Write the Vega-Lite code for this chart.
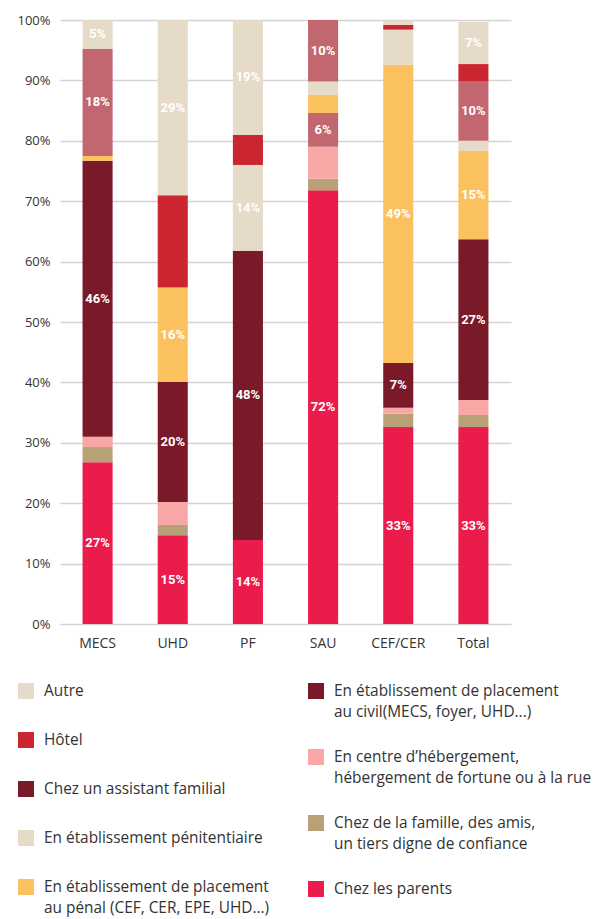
{
  "$schema": "https://vega.github.io/schema/vega-lite/v6.json",
  "width": 451,
  "height": 604,
  "autosize": {"type": "none"},
  "padding": {"left": 60, "top": 20, "right": 87, "bottom": 295},
  "background": "#ffffff",
  "config": {
    "view": {"stroke": null},
    "font": "Open Sans",
    "axis": {"labelFont": "Open Sans", "labelColor": "#333333", "title": null}
  },
  "datasets": {
    "valeurs": [
      {"structure": "MECS", "categorie": "Chez les parents", "ordre": 1, "valeur": 0.268, "etiquette": true},
      {"structure": "MECS", "categorie": "Chez de la famille, des amis, un tiers digne de confiance", "ordre": 2, "valeur": 0.025, "etiquette": false},
      {"structure": "MECS", "categorie": "En centre d’hébergement, hébergement de fortune ou à la rue", "ordre": 3, "valeur": 0.017, "etiquette": false},
      {"structure": "MECS", "categorie": "En établissement de placement au civil(MECS, foyer, UHD...)", "ordre": 4, "valeur": 0.457, "etiquette": true},
      {"structure": "MECS", "categorie": "En établissement de placement au pénal (CEF, CER, EPE, UHD...)", "ordre": 5, "valeur": 0.008, "etiquette": false},
      {"structure": "MECS", "categorie": "Chez un assistant familial", "ordre": 7, "valeur": 0.177, "etiquette": true},
      {"structure": "MECS", "categorie": "Autre", "ordre": 9, "valeur": 0.048, "etiquette": true},

      {"structure": "UHD", "categorie": "Chez les parents", "ordre": 1, "valeur": 0.147, "etiquette": true},
      {"structure": "UHD", "categorie": "Chez de la famille, des amis, un tiers digne de confiance", "ordre": 2, "valeur": 0.017, "etiquette": false},
      {"structure": "UHD", "categorie": "En centre d’hébergement, hébergement de fortune ou à la rue", "ordre": 3, "valeur": 0.038, "etiquette": false},
      {"structure": "UHD", "categorie": "En établissement de placement au civil(MECS, foyer, UHD...)", "ordre": 4, "valeur": 0.199, "etiquette": true},
      {"structure": "UHD", "categorie": "En établissement de placement au pénal (CEF, CER, EPE, UHD...)", "ordre": 5, "valeur": 0.156, "etiquette": true},
      {"structure": "UHD", "categorie": "Hôtel", "ordre": 8, "valeur": 0.153, "etiquette": false},
      {"structure": "UHD", "categorie": "Autre", "ordre": 9, "valeur": 0.29, "etiquette": true},

      {"structure": "PF", "categorie": "Chez les parents", "ordre": 1, "valeur": 0.139, "etiquette": true},
      {"structure": "PF", "categorie": "En établissement de placement au civil(MECS, foyer, UHD...)", "ordre": 4, "valeur": 0.479, "etiquette": true},
      {"structure": "PF", "categorie": "En établissement pénitentiaire", "ordre": 6, "valeur": 0.142, "etiquette": true},
      {"structure": "PF", "categorie": "Hôtel", "ordre": 8, "valeur": 0.05, "etiquette": false},
      {"structure": "PF", "categorie": "Autre", "ordre": 9, "valeur": 0.19, "etiquette": true},

      {"structure": "SAU", "categorie": "Chez les parents", "ordre": 1, "valeur": 0.718, "etiquette": true},
      {"structure": "SAU", "categorie": "Chez de la famille, des amis, un tiers digne de confiance", "ordre": 2, "valeur": 0.019, "etiquette": false},
      {"structure": "SAU", "categorie": "En centre d’hébergement, hébergement de fortune ou à la rue", "ordre": 3, "valeur": 0.053, "etiquette": false},
      {"structure": "SAU", "categorie": "Chez un assistant familial", "ordre": 4, "valeur": 0.056, "etiquette": true},
      {"structure": "SAU", "categorie": "En établissement de placement au pénal (CEF, CER, EPE, UHD...)", "ordre": 5, "valeur": 0.03, "etiquette": false},
      {"structure": "SAU", "categorie": "En établissement pénitentiaire", "ordre": 6, "valeur": 0.022, "etiquette": false},
      {"structure": "SAU", "categorie": "Chez un assistant familial", "ordre": 7, "valeur": 0.102, "etiquette": true},

      {"structure": "CEF/CER", "categorie": "Chez les parents", "ordre": 1, "valeur": 0.326, "etiquette": true},
      {"structure": "CEF/CER", "categorie": "Chez de la famille, des amis, un tiers digne de confiance", "ordre": 2, "valeur": 0.022, "etiquette": false},
      {"structure": "CEF/CER", "categorie": "En centre d’hébergement, hébergement de fortune ou à la rue", "ordre": 3, "valeur": 0.01, "etiquette": false},
      {"structure": "CEF/CER", "categorie": "En établissement de placement au civil(MECS, foyer, UHD...)", "ordre": 4, "valeur": 0.074, "etiquette": true},
      {"structure": "CEF/CER", "categorie": "En établissement de placement au pénal (CEF, CER, EPE, UHD...)", "ordre": 5, "valeur": 0.494, "etiquette": true},
      {"structure": "CEF/CER", "categorie": "En établissement pénitentiaire", "ordre": 6, "valeur": 0.058, "etiquette": false},
      {"structure": "CEF/CER", "categorie": "Hôtel", "ordre": 8, "valeur": 0.008, "etiquette": false},
      {"structure": "CEF/CER", "categorie": "Autre", "ordre": 9, "valeur": 0.007, "etiquette": false},

      {"structure": "Total", "categorie": "Chez les parents", "ordre": 1, "valeur": 0.326, "etiquette": true},
      {"structure": "Total", "categorie": "Chez de la famille, des amis, un tiers digne de confiance", "ordre": 2, "valeur": 0.02, "etiquette": false},
      {"structure": "Total", "categorie": "En centre d’hébergement, hébergement de fortune ou à la rue", "ordre": 3, "valeur": 0.025, "etiquette": false},
      {"structure": "Total", "categorie": "En établissement de placement au civil(MECS, foyer, UHD...)", "ordre": 4, "valeur": 0.266, "etiquette": true},
      {"structure": "Total", "categorie": "En établissement de placement au pénal (CEF, CER, EPE, UHD...)", "ordre": 5, "valeur": 0.146, "etiquette": true},
      {"structure": "Total", "categorie": "En établissement pénitentiaire", "ordre": 6, "valeur": 0.017, "etiquette": false},
      {"structure": "Total", "categorie": "Chez un assistant familial", "ordre": 7, "valeur": 0.099, "etiquette": true},
      {"structure": "Total", "categorie": "Hôtel", "ordre": 8, "valeur": 0.028, "etiquette": false},
      {"structure": "Total", "categorie": "Autre", "ordre": 9, "valeur": 0.07, "etiquette": true}
    ]
  },
  "resolve": {"scale": {"color": "independent"}, "legend": {"color": "independent"}},
  "layer": [
    {
      "data": {"name": "valeurs"},
      "transform": [
        {"stack": "valeur", "groupby": ["structure"], "sort": [{"field": "ordre", "order": "ascending"}], "as": ["y0", "y1"]}
      ],
      "mark": {"type": "bar"},
      "encoding": {
        "x": {
          "field": "structure", "type": "nominal",
          "sort": ["MECS", "UHD", "PF", "SAU", "CEF/CER", "Total"],
          "scale": {"paddingInner": 0.6, "paddingOuter": 0.3},
          "axis": {"labelAngle": 0, "domain": false, "ticks": false, "labelFontSize": 14, "labelPadding": 12, "title": null}
        },
        "y": {
          "field": "y0", "type": "quantitative",
          "scale": {"domain": [0, 1], "nice": false},
          "axis": {"values": [0, 0.1, 0.2, 0.3, 0.4, 0.5, 0.6, 0.7, 0.8, 0.9, 1], "format": ".0%", "grid": true, "gridColor": "#d3d3d3", "gridWidth": 1.5, "domain": false, "ticks": false, "labelFontSize": 13, "labelPadding": 10, "title": null}
        },
        "y2": {"field": "y1"},
        "color": {
          "field": "categorie", "type": "nominal", "legend": null,
          "scale": {
            "domain": ["Autre", "Hôtel", "Chez un assistant familial", "En établissement pénitentiaire", "En établissement de placement au pénal (CEF, CER, EPE, UHD...)", "En établissement de placement au civil(MECS, foyer, UHD...)", "En centre d’hébergement, hébergement de fortune ou à la rue", "Chez de la famille, des amis, un tiers digne de confiance", "Chez les parents"],
            "range": ["#e6dac8", "#cb2630", "#c2666f", "#e6dac8", "#fcc15f", "#7a1a28", "#f9a6a6", "#b9a076", "#e91c4c"]
          }
        }
      }
    },
    {
      "data": {"name": "valeurs"},
      "transform": [
        {"stack": "valeur", "groupby": ["structure"], "sort": [{"field": "ordre", "order": "ascending"}], "as": ["y0", "y1"]},
        {"filter": "datum.etiquette"},
        {"fold": ["y0", "y1"], "as": ["bord", "pos"]},
        {"aggregate": [{"op": "mean", "field": "pos", "as": "milieu"}], "groupby": ["structure", "ordre", "valeur"]}
      ],
      "mark": {"type": "text", "color": "#ffffff", "font": "Liberation Sans Narrow, Roboto", "fontWeight": "bold", "fontSize": 13, "baseline": "middle"},
      "encoding": {
        "x": {"field": "structure", "type": "nominal", "sort": ["MECS", "UHD", "PF", "SAU", "CEF/CER", "Total"], "title": null},
        "y": {"field": "milieu", "type": "quantitative", "scale": {"domain": [0, 1], "nice": false}, "title": null},
        "text": {"field": "valeur", "type": "quantitative", "format": ".0%"}
      }
    },
    {
      "data": {"name": "valeurs"},
      "transform": [{"filter": "datum.valeur < 0"}],
      "mark": {"type": "bar"},
      "encoding": {
        "x": {"field": "structure", "type": "nominal", "sort": ["MECS", "UHD", "PF", "SAU", "CEF/CER", "Total"], "title": null},
        "y": {"field": "valeur", "type": "quantitative", "scale": {"domain": [0, 1], "nice": false}, "title": null},
        "color": {
          "field": "categorie", "type": "nominal",
          "scale": {
            "domain": ["Autre", "Hôtel", "Chez un assistant familial", "En établissement pénitentiaire", "En établissement de placement au pénal (CEF, CER, EPE, UHD...)"],
            "range": ["#e6dac8", "#cb2630", "#7a1a28", "#e6dac8", "#fcc15f"]
          },
          "legend": {
            "orient": "none", "legendX": -42, "legendY": 663, "title": null, "padding": 0,
            "symbolType": "square", "symbolSize": 256, "symbolStrokeWidth": 0, "symbolOpacity": 1,
            "labelFont": "Open Sans", "labelFontSize": 15.4, "labelColor": "#333333", "labelOffset": 10, "labelLimit": 300,
            "rowPadding": 32,
            "labelExpr": "datum.label == 'En établissement de placement au pénal (CEF, CER, EPE, UHD...)' ? ['En établissement de placement', 'au pénal (CEF, CER, EPE, UHD...)'] : datum.label",
            "encode": {"labels": {"update": {"lineHeight": {"value": 21}}}}
          }
        }
      }
    },
    {
      "data": {"name": "valeurs"},
      "transform": [{"filter": "datum.valeur < 0"}],
      "mark": {"type": "bar"},
      "encoding": {
        "x": {"field": "structure", "type": "nominal", "sort": ["MECS", "UHD", "PF", "SAU", "CEF/CER", "Total"], "title": null},
        "y": {"field": "valeur", "type": "quantitative", "scale": {"domain": [0, 1], "nice": false}, "title": null},
        "color": {
          "field": "categorie", "type": "nominal",
          "scale": {
            "domain": ["En établissement de placement au civil(MECS, foyer, UHD...)", "En centre d’hébergement, hébergement de fortune ou à la rue", "Chez de la famille, des amis, un tiers digne de confiance", "Chez les parents"],
            "range": ["#7a1a28", "#f9a6a6", "#b9a076", "#e91c4c"]
          },
          "legend": {
            "orient": "none", "legendX": 248, "legendY": 663, "title": null, "padding": 0,
            "symbolType": "square", "symbolSize": 256, "symbolStrokeWidth": 0, "symbolOpacity": 1,
            "labelFont": "Open Sans", "labelFontSize": 15.4, "labelColor": "#333333", "labelOffset": 10, "labelLimit": 300,
            "rowPadding": 28,
            "labelExpr": "datum.label == 'En établissement de placement au civil(MECS, foyer, UHD...)' ? ['En établissement de placement', 'au civil(MECS, foyer, UHD...)'] : datum.label == 'En centre d’hébergement, hébergement de fortune ou à la rue' ? ['En centre d’hébergement,', 'hébergement de fortune ou à la rue'] : datum.label == 'Chez de la famille, des amis, un tiers digne de confiance' ? ['Chez de la famille, des amis,', 'un tiers digne de confiance'] : datum.label",
            "encode": {"labels": {"update": {"lineHeight": {"value": 21}}}}
          }
        }
      }
    }
  ]
}
